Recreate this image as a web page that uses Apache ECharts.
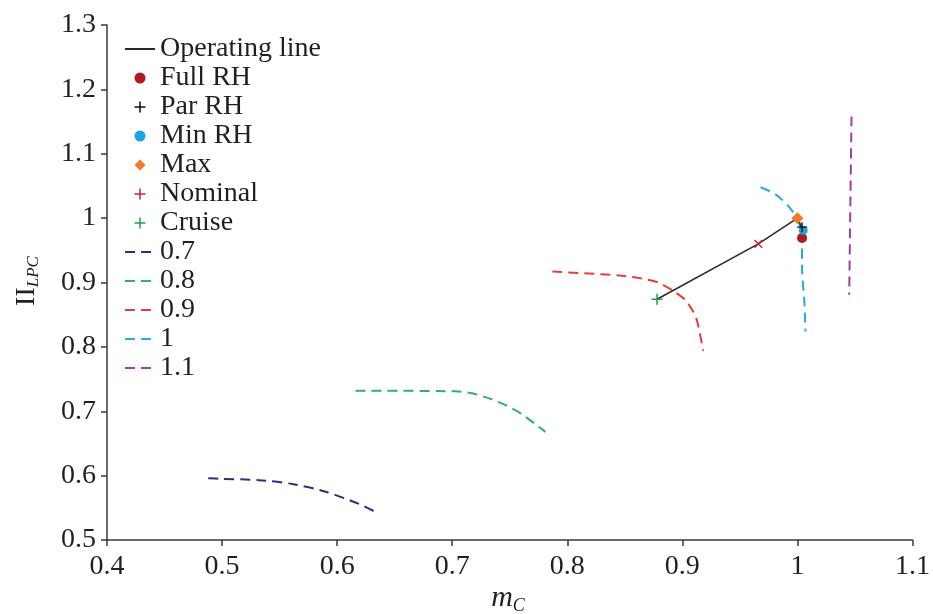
<!DOCTYPE html>
<html><head><meta charset="utf-8">
<script src="https://cdn.jsdelivr.net/npm/echarts@6/dist/echarts.min.js"></script>
<style>html,body{margin:0;padding:0;background:#fff}#c{width:933px;height:614px}</style>
</head><body><div id="c"></div><script>
// ---- data ----
const xTicks = [0.4, 0.5, 0.6, 0.7, 0.8, 0.9, 1.0, 1.1];
const yTicks = [0.5, 0.6, 0.7, 0.8, 0.9, 1.0, 1.1, 1.2, 1.3];

const opX = [0.878, 0.966, 1.000, 1.004];
const opY = [0.874, 0.960, 1.000, 0.984];

const fullRH = [1.004, 0.969];
const parRH = [1.004, 0.986];
const minRH = [1.005, 0.981];
const maxPt = [1.000, 1.000];
const nominal = [0.966, 0.960];
const cruise = [0.878, 0.874];

const speed07X = [0.488, 0.500, 0.532, 0.561, 0.590, 0.619, 0.635];
const speed07Y = [0.596, 0.595, 0.593, 0.587, 0.575, 0.556, 0.542];
const speed08X = [0.616, 0.703, 0.717, 0.732, 0.747, 0.760, 0.781];
const speed08Y = [0.732, 0.731, 0.728, 0.720, 0.709, 0.696, 0.668];
const speed09X = [0.787, 0.845, 0.862, 0.879, 0.892, 0.903, 0.912, 0.918];
const speed09Y = [0.917, 0.911, 0.907, 0.900, 0.887, 0.872, 0.845, 0.794];
const speed10X = [0.968, 0.981, 0.992, 1.001, 1.004, 1.004, 1.006, 1.007];
const speed10Y = [1.048, 1.037, 1.019, 0.995, 0.964, 0.922, 0.871, 0.824];
const speed11X = [1.047, 1.046, 1.045];
const speed11Y = [1.158, 1.020, 0.881];

const speedNames = ['0.7', '0.8', '0.9', '1', '1.1'];
const speedColors = ['#2e2f7e', '#35b06a', '#e2403a', '#29a9df', '#a03ea6'];
// ---------------

const zip = (a, b) => a.map((v, i) => [v, b[i]]);
const speedX = [speed07X, speed08X, speed09X, speed10X, speed11X];
const speedY = [speed07Y, speed08Y, speed09Y, speed10Y, speed11Y];
const FONT = 'Liberation Serif';
const PLUS = 'path://M4.3,0h1.4v4.3H10v1.4H5.7V10H4.3V5.7H0V4.3h4.3z';
const DIAMOND = 'path://M5,0L10,5L5,10L0,5Z';

const series = [
  {name: 'Operating line', type: 'line', data: zip(opX, opY), symbol: 'none',
   lineStyle: {color: '#2b2b2b', width: 1.6}, itemStyle: {color: '#2b2b2b'}, z: 5},
  {name: 'Full RH', type: 'scatter', data: [fullRH], symbol: 'circle', symbolSize: 10, symbolKeepAspect: true,
   itemStyle: {color: '#b01822', opacity: 1}, z: 6},
  {name: 'Min RH', type: 'scatter', data: [minRH], symbol: 'circle', symbolSize: 9, symbolKeepAspect: true,
   itemStyle: {color: '#1ca4e0', opacity: 1}, z: 7},
  {name: 'Par RH', type: 'scatter', data: [parRH], symbol: PLUS, symbolSize: 10, symbolKeepAspect: true,
   itemStyle: {color: '#111', opacity: 1}, z: 8},
  {name: 'Max', type: 'scatter', data: [maxPt], symbol: DIAMOND, symbolSize: 12, symbolKeepAspect: true,
   itemStyle: {color: '#f07a26', opacity: 1}, z: 6},
  {name: 'Nominal', type: 'scatter', data: [nominal], symbol: PLUS, symbolSize: 11, symbolKeepAspect: true,
   symbolRotate: 45, itemStyle: {color: '#c4283a', opacity: 1}, z: 6},
  {name: 'Cruise', type: 'scatter', data: [cruise], symbol: PLUS, symbolSize: 11, symbolKeepAspect: true,
   itemStyle: {color: '#21a04e', opacity: 1}, z: 6}
];
speedNames.forEach((n, i) => {
  series.push({name: n, type: 'line', data: zip(speedX[i], speedY[i]), symbol: 'none', smooth: 0.25,
    lineStyle: {color: speedColors[i], width: 2, type: [10, 6]}, itemStyle: {color: speedColors[i]}, z: 3});
});

const lineNames = ['Operating line'].concat(speedNames);
const legendOrder = ['Operating line', 'Full RH', 'Par RH', 'Min RH', 'Max', 'Nominal', 'Cruise'].concat(speedNames);

const chart = echarts.init(document.getElementById('c'), null, {renderer: 'canvas'});
chart.setOption({
  animation: false,
  backgroundColor: '#fff',
  grid: {left: 107, right: 19, top: 25, bottom: 74, containLabel: false},
  legend: {
    orient: 'vertical', left: 119, top: 30, itemWidth: 30, itemHeight: 11, itemGap: 1,
    data: legendOrder.map(n => {
      if (lineNames.indexOf(n) >= 0) return {name: n, itemStyle: {opacity: 0}};
      if (n === 'Nominal') return {name: n, symbolRotate: 0};
      return {name: n};
    }),
    textStyle: {fontFamily: FONT, fontSize: 28, lineHeight: 26, color: '#231f20'},
    selectedMode: false
  },
  xAxis: {
    type: 'value', min: 0.4, max: 1.1, interval: 0.1,
    axisLine: {show: true, onZero: false, lineStyle: {color: '#3a3a3a', width: 1.5}},
    axisTick: {show: true, length: 6, lineStyle: {color: '#3a3a3a', width: 1.5}},
    splitLine: {show: false},
    axisLabel: {fontFamily: FONT, fontSize: 28, color: '#231f20', margin: 13,
      formatter: v => String(+v.toFixed(1))}
  },
  yAxis: {
    type: 'value', min: 0.5, max: 1.3, interval: 0.1,
    axisLine: {show: true, onZero: false, lineStyle: {color: '#3a3a3a', width: 1.5}},
    axisTick: {show: true, length: 6, lineStyle: {color: '#3a3a3a', width: 1.5}},
    splitLine: {show: false},
    axisLabel: {fontFamily: FONT, fontSize: 28, color: '#231f20', margin: 11,
      formatter: v => String(+v.toFixed(1))}
  },
  graphic: [
    {type: 'text', x: 508, y: 598, style: {
      text: '{m|m}{s|C}', align: 'center', verticalAlign: 'middle',
      rich: {m: {fontFamily: FONT, fontSize: 30, fontStyle: 'italic', fill: '#231f20'},
             s: {fontFamily: FONT, fontSize: 18, fontStyle: 'italic', fill: '#231f20', padding: [16, 0, 0, 0], verticalAlign: 'top'}}
    }},
    {type: 'text', x: 27, y: 281, rotation: Math.PI / 2, style: {
      text: '{m|II}{s|LPC}', align: 'center', verticalAlign: 'middle',
      rich: {m: {fontFamily: FONT, fontSize: 28, fill: '#231f20'},
             s: {fontFamily: FONT, fontSize: 17, fontStyle: 'italic', fill: '#231f20', padding: [14, 0, 0, 0], verticalAlign: 'top'}}
    }}
  ],
  series: series
});
</script></body></html>
